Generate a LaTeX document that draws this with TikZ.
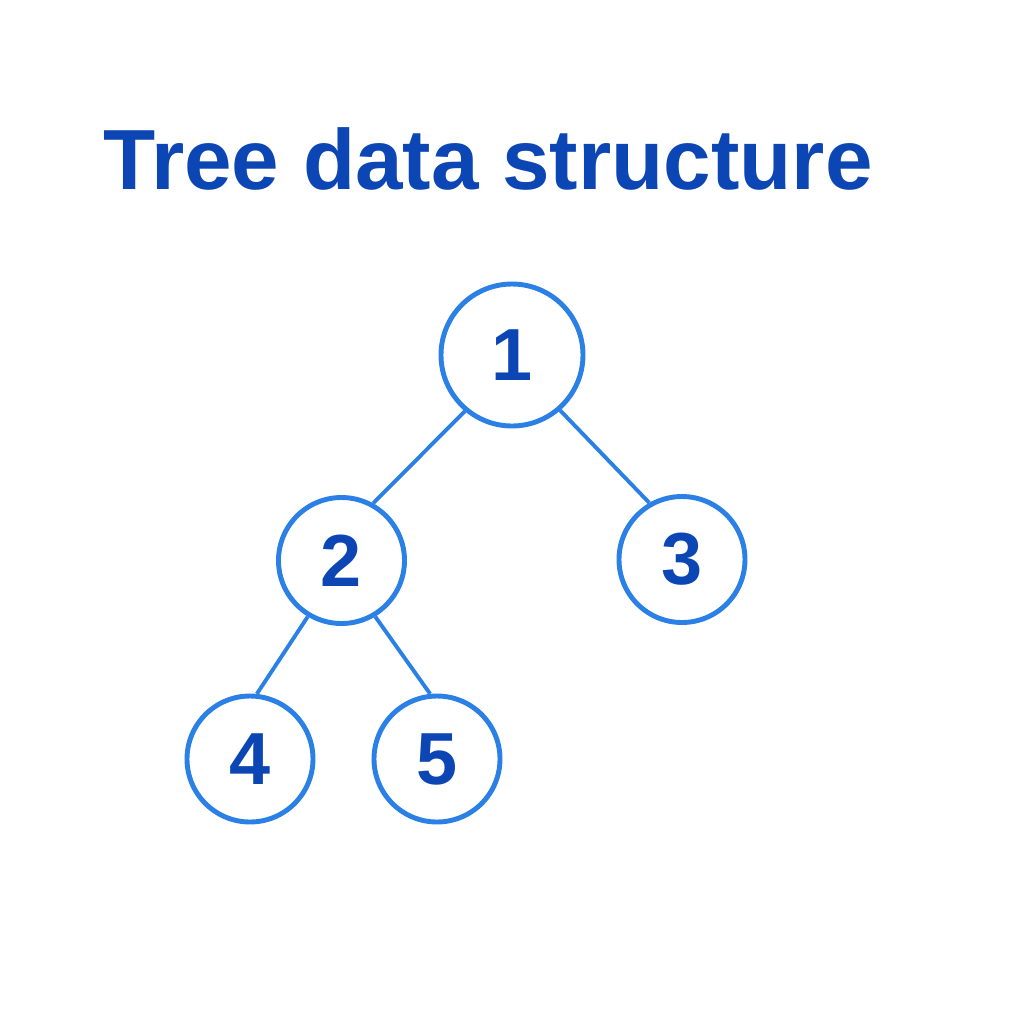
\documentclass[tikz,border=0pt]{standalone}
\usepackage{fontspec}
\setmainfont{Liberation Sans}
\usetikzlibrary{positioning}

\definecolor{ringblue}{HTML}{2A80E4}
\definecolor{textblue}{HTML}{0B46B4}

\tikzset{
    treenode/.style={draw=ringblue, line width=1.4pt, circle, inner sep=0pt,
                     minimum size=1.26cm, text=textblue,
                     font=\fontsize{21}{24}\selectfont\bfseries},
    rootnode/.style={treenode, minimum size=1.42cm},
    treeedge/.style={draw=ringblue, line width=1.1pt}
}

\begin{document}
\begin{tikzpicture}
    \useasboundingbox[fill=white] (0,0) rectangle (10.24,-10.24);
    \node[anchor=base west, text=textblue, inner sep=0pt,
          font=\fontsize{24.3}{28}\selectfont\bfseries] (title)
          at (1.03,-1.89) {Tree data structure};
    \node[rootnode] (n1) at (5.12,-3.55) {1};
    \node[treenode] (n2) at (3.415,-5.605) {2};
    \node[treenode] (n3) at (6.82,-5.595) {3};
    \node[treenode] (n4) at (2.50,-7.59) {4};
    \node[treenode] (n5) at (4.37,-7.59) {5};
    \draw[treeedge] (n1.230) -- (n2.61);
    \draw[treeedge] (n1.311) -- (n3.120);
    \draw[treeedge] (n2.239) -- (n4.84);
    \draw[treeedge] (n2.301) -- (n5.96);
\end{tikzpicture}
\end{document}
